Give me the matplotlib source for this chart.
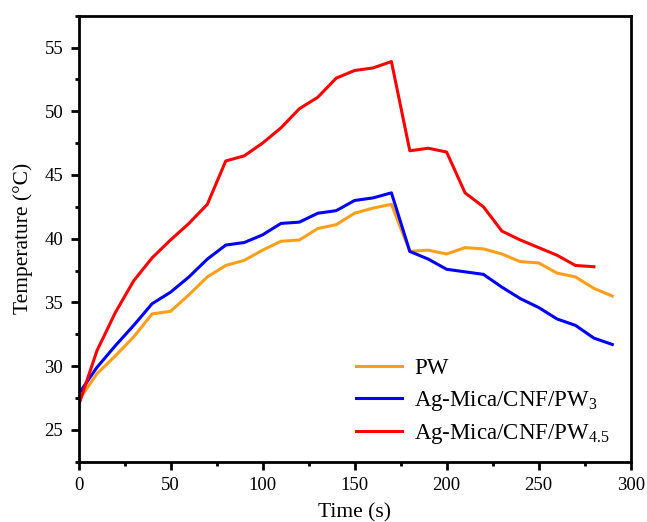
import matplotlib
matplotlib.use("Agg")
import matplotlib.pyplot as plt
from matplotlib import rcParams
from matplotlib.ticker import MultipleLocator

rcParams["font.family"] = ["Liberation Serif", "DejaVu Serif"]
rcParams["mathtext.fontset"] = "custom"
rcParams["mathtext.rm"] = "Liberation Serif"
rcParams["mathtext.it"] = "Liberation Serif:italic"

# ====== data ======
time_pw = [0, 10, 20, 30, 40, 50, 60, 70, 80, 90, 100, 110, 120, 130, 140,
           150, 160, 170, 180, 190, 200, 210, 220, 230, 240, 250, 260, 270,
           280, 290]
temp_pw = [27.3, 29.4, 30.8, 32.3, 34.1, 34.3, 35.6, 37.0, 37.9, 38.3, 39.1,
           39.8, 39.9, 40.8, 41.1, 42.0, 42.4, 42.7, 39.0, 39.1, 38.8, 39.3,
           39.2, 38.8, 38.2, 38.1, 37.3, 37.0, 36.1, 35.5]

time_ag3 = time_pw
temp_ag3 = [27.8, 29.9, 31.6, 33.2, 34.9, 35.8, 37.0, 38.4, 39.5, 39.7, 40.3,
            41.2, 41.3, 42.0, 42.2, 43.0, 43.2, 43.6, 39.0, 38.4, 37.6, 37.4,
            37.2, 36.2, 35.3, 34.6, 33.7, 33.2, 32.2, 31.7]

time_ag45 = time_pw[:-1]
temp_ag45 = [26.9, 31.2, 34.2, 36.7, 38.5, 39.9, 41.2, 42.7, 46.1, 46.5, 47.5,
             48.7, 50.2, 51.1, 52.6, 53.2, 53.4, 53.9, 46.9, 47.1, 46.8, 43.6,
             42.5, 40.6, 39.9, 39.3, 38.7, 37.9, 37.8]

labels = ["PW", r"Ag-Mica/CNF/PW$_{\mathrm{3}}$", r"Ag-Mica/CNF/PW$_{\mathrm{4.5}}$"]

c_pw = "#FF9E1B"
c_ag3 = "#0000FF"
c_ag45 = "#FF0000"

# ====== plot ======
fig = plt.figure(figsize=(6.47, 5.22), dpi=100)
ax = fig.add_axes([78.5 / 647, 1 - 461.7 / 522, (630.7 - 78.5) / 647,
                   (461.7 - 15.7) / 522])

ax.plot(time_pw, temp_pw, color=c_pw, lw=2.2, label=labels[0])
ax.plot(time_ag3, temp_ag3, color=c_ag3, lw=2.2, label=labels[1])
ax.plot(time_ag45, temp_ag45, color=c_ag45, lw=2.2, label=labels[2])

ax.set_xlim(0, 300)
ax.set_ylim(22.5, 57.5)
ax.xaxis.set_major_locator(MultipleLocator(50))
ax.xaxis.set_minor_locator(MultipleLocator(25))
ax.yaxis.set_major_locator(MultipleLocator(5))
ax.yaxis.set_minor_locator(MultipleLocator(2.5))
ax.tick_params(which="major", direction="out", length=6, width=2,
               labelsize=13.5, top=False, right=False, pad=5)
ax.tick_params(which="minor", direction="out", length=3, width=2,
               top=False, right=False)
for s in ax.spines.values():
    s.set_linewidth(2)

ax.set_xlabel("Time (s)", fontsize=15.5, labelpad=7)
ax.set_ylabel("Temperature (°C)", fontsize=15.5, labelpad=8)

ax.legend(loc="lower right", bbox_to_anchor=(1.0, -0.012), frameon=False,
          fontsize=16.5, handlelength=2.0, handletextpad=0.55, labelspacing=0.42)

fig.savefig("out.png", dpi=100, facecolor="white")
plt.close()
